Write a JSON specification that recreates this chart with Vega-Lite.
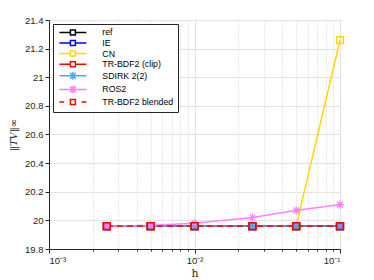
{
  "$schema": "https://vega.github.io/schema/vega-lite/v6.json",
  "autosize": {"type": "none"},
  "padding": {"left": 49, "top": 20, "right": 34, "bottom": 31},
  "width": 291,
  "height": 229,
  "background": "white",
  "config": {
    "view": {"stroke": "#262626", "strokeWidth": 1},
    "axis": {"labelFont": "Liberation Sans", "labelFontSize": 9.5, "labelColor": "#262626", "domainColor": "#262626", "tickColor": "#262626", "titleColor": "#262626"}
  },
  "data": {"values": [
    {"s": "ref", "h": 0.0025, "v": 19.96}, {"s": "ref", "h": 0.005, "v": 19.96}, {"s": "ref", "h": 0.01, "v": 19.96}, {"s": "ref", "h": 0.025, "v": 19.96}, {"s": "ref", "h": 0.05, "v": 19.96}, {"s": "ref", "h": 0.1, "v": 19.96},
    {"s": "IE", "h": 0.0025, "v": 19.96}, {"s": "IE", "h": 0.005, "v": 19.96}, {"s": "IE", "h": 0.01, "v": 19.96}, {"s": "IE", "h": 0.025, "v": 19.96}, {"s": "IE", "h": 0.05, "v": 19.96}, {"s": "IE", "h": 0.1, "v": 19.96},
    {"s": "CN", "h": 0.0025, "v": 19.96}, {"s": "CN", "h": 0.005, "v": 19.96}, {"s": "CN", "h": 0.01, "v": 19.96}, {"s": "CN", "h": 0.025, "v": 19.96}, {"s": "CN", "h": 0.05, "v": 19.96}, {"s": "CN", "h": 0.1, "v": 21.26},
    {"s": "TR-BDF2 (clip)", "h": 0.0025, "v": 19.96}, {"s": "TR-BDF2 (clip)", "h": 0.005, "v": 19.96}, {"s": "TR-BDF2 (clip)", "h": 0.01, "v": 19.96}, {"s": "TR-BDF2 (clip)", "h": 0.025, "v": 19.96}, {"s": "TR-BDF2 (clip)", "h": 0.05, "v": 19.96}, {"s": "TR-BDF2 (clip)", "h": 0.1, "v": 19.96},
    {"s": "SDIRK 2(2)", "h": 0.0025, "v": 19.96}, {"s": "SDIRK 2(2)", "h": 0.005, "v": 19.96}, {"s": "SDIRK 2(2)", "h": 0.01, "v": 19.96}, {"s": "SDIRK 2(2)", "h": 0.025, "v": 19.96}, {"s": "SDIRK 2(2)", "h": 0.05, "v": 19.96}, {"s": "SDIRK 2(2)", "h": 0.1, "v": 19.96},
    {"s": "ROS2", "h": 0.0025, "v": 19.96}, {"s": "ROS2", "h": 0.005, "v": 19.965}, {"s": "ROS2", "h": 0.01, "v": 19.98}, {"s": "ROS2", "h": 0.025, "v": 20.02}, {"s": "ROS2", "h": 0.05, "v": 20.07}, {"s": "ROS2", "h": 0.1, "v": 20.11},
    {"s": "TR-BDF2 blended", "h": 0.0025, "v": 19.96}, {"s": "TR-BDF2 blended", "h": 0.005, "v": 19.96}, {"s": "TR-BDF2 blended", "h": 0.01, "v": 19.96}, {"s": "TR-BDF2 blended", "h": 0.025, "v": 19.96}, {"s": "TR-BDF2 blended", "h": 0.05, "v": 19.96}, {"s": "TR-BDF2 blended", "h": 0.1, "v": 19.96}
  ]},
  "encoding": {
    "x": {"field": "h", "type": "quantitative", "scale": {"type": "log", "domain": [0.001, 0.1], "nice": false},
      "axis": {"title": "h", "titleFont": "DejaVu Serif", "titleFontWeight": "normal", "titleFontSize": 11, "titlePadding": 3,
        "values": [0.001, 0.002, 0.003, 0.004, 0.005, 0.006, 0.007, 0.008, 0.009, 0.01, 0.02, 0.03, 0.04, 0.05, 0.06, 0.07, 0.08, 0.09, 0.1],
        "labelExpr": "datum.value < 0.0015 ? '10⁻³' : (abs(datum.value - 0.01) < 0.0001 ? '10⁻²' : (datum.value > 0.095 ? '10⁻¹' : ''))",
        "labelPadding": 2,
        "grid": true,
        "gridColor": {"condition": {"test": "datum.value < 0.0015 || abs(datum.value - 0.01) < 0.0001 || datum.value > 0.095", "value": "#e3e3e3"}, "value": "#d0d0d0"},
        "gridDash": {"condition": {"test": "datum.value < 0.0015 || abs(datum.value - 0.01) < 0.0001 || datum.value > 0.095", "value": []}, "value": [1, 2]},
        "tickSize": {"condition": {"test": "datum.value < 0.0015 || abs(datum.value - 0.01) < 0.0001 || datum.value > 0.095", "value": 4}, "value": 2}
      }},
    "y": {"field": "v", "type": "quantitative", "scale": {"domain": [19.8, 21.4], "nice": false, "zero": false},
      "axis": {"title": "‖TV‖∞", "titleFont": "DejaVu Serif", "titleFontStyle": "italic", "titleFontWeight": "normal", "titleFontSize": 10, "titlePadding": 6,
        "values": [19.8, 20, 20.2, 20.4, 20.6, 20.8, 21, 21.2, 21.4], "format": "~g", "gridColor": "#e3e3e3", "tickSize": 4, "labelPadding": 2}},
    "color": {"field": "s", "type": "nominal",
      "scale": {"domain": ["ref", "IE", "CN", "TR-BDF2 (clip)", "SDIRK 2(2)", "ROS2", "TR-BDF2 blended"],
        "range": ["#000000", "#0000ff", "#ffd700", "#ff0000", "#4da6ff", "#ff80ff", "#ff0000"]},
      "legend": {"title": null, "orient": "top-left", "offset": 4, "fillColor": "white", "strokeColor": "#262626", "padding": 4,
        "labelFont": "Liberation Sans", "labelFontSize": 8.8, "labelColor": "#000000", "symbolSize": 36, "rowPadding": -1.4, "symbolStrokeWidth": 1.5,
        "symbolOffset": 11.5, "labelOffset": 25, "symbolFillColor": "transparent",
        "symbolType": "M-4.5,0L-0.83,0M0.83,0L4.5,0M-0.83,-0.83L0.83,-0.83L0.83,0.83L-0.83,0.83Z",
        "encode": {"symbols": {"update": {
          "fill": {"value": "transparent"},
          "strokeDash": {"value": []},
          "shape": {"signal": "(datum.value == 'SDIRK 2(2)' || datum.value == 'ROS2') ? 'M-4.5,0L4.5,0M0,-1.3L0,1.3M-1,-1L1,1M-1,1L1,-1' : (datum.value == 'TR-BDF2 blended' ? 'M-4.5,0L-2.9,0M2.9,0L4.5,0M-0.83,-0.83L0.83,-0.83L0.83,0.83L-0.83,0.83Z' : 'M-4.5,0L-0.83,0M0.83,0L4.5,0M-0.83,-0.83L0.83,-0.83L0.83,0.83L-0.83,0.83Z')"}
        }}}}},
    "order": {"field": "h", "type": "quantitative"}
  },
  "layer": [
    {"mark": {"type": "line", "strokeWidth": 1.5},
     "encoding": {"strokeDash": {"condition": {"test": "datum.s == 'TR-BDF2 blended'", "value": [6, 4]}, "value": [1, 0]}}},
    {"mark": {"type": "point", "filled": false, "fill": "transparent", "size": 45, "strokeWidth": 1.5, "opacity": 1},
     "encoding": {
       "shape": {"condition": {"test": "datum.s == 'SDIRK 2(2)' || datum.s == 'ROS2'", "value": "M-1.2,0L1.2,0M0,-1.2L0,1.2M-0.85,-0.85L0.85,0.85M-0.85,0.85L0.85,-0.85"}, "value": "square"},
       "strokeWidth": {"condition": {"test": "datum.s == 'SDIRK 2(2)' || datum.s == 'ROS2'", "value": 1.2}, "value": 1.5}}}
  ]
}
